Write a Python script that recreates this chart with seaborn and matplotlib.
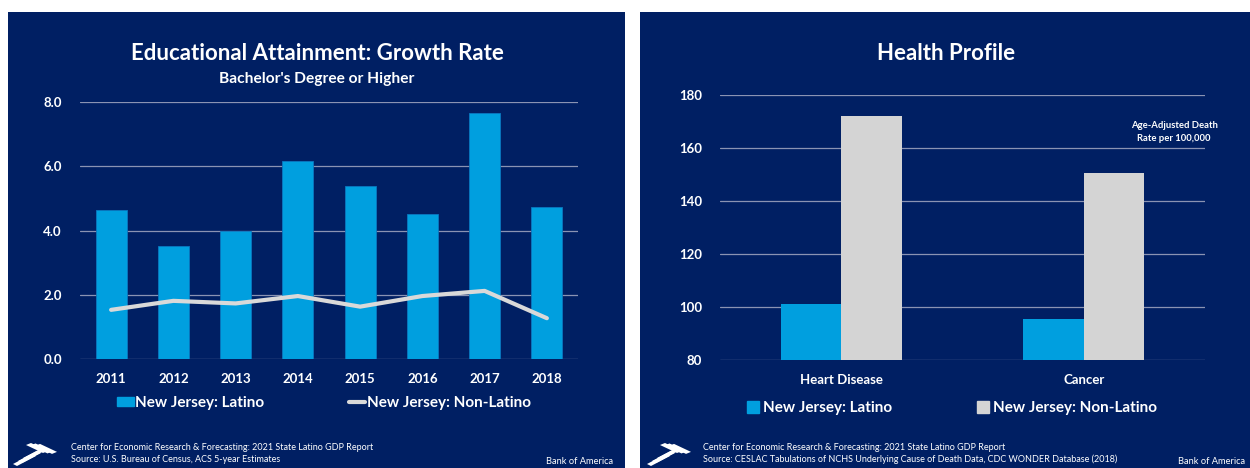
import numpy as np
import pandas as pd
import matplotlib
matplotlib.use("Agg")
import matplotlib.pyplot as plt
from matplotlib.patches import Rectangle, Polygon
from matplotlib.lines import Line2D
import seaborn as sns

# data
years = ["2011", "2012", "2013", "2014", "2015", "2016", "2017", "2018"]
latino_growth = [4.65, 3.52, 4.0, 6.16, 5.39, 4.52, 7.67, 4.74]
nonlatino_growth = [1.53, 1.81, 1.73, 1.96, 1.63, 1.96, 2.12, 1.27]

causes = ["Heart Disease", "Cancer"]
latino_death = [101.1, 95.3]
nonlatino_death = [172.2, 150.7]
groups = ["New Jersey: Latino", "New Jersey: Non-Latino"]

NAVY = "#001f63"
BLUE = "#009fdf"
GRAY = "#d4d4d4"
GRID = "#8a93b3"
FONT = "Lato"

sns.set_theme(style="dark")
plt.rcParams["font.family"] = [FONT, "DejaVu Sans"]
plt.rcParams["font.weight"] = "bold"

W, H = 1250, 468
fig = plt.figure(figsize=(W / 100, H / 100), dpi=100, facecolor="white")


def fx(px):
    return px / W


def fy(py):
    return 1 - py / H


def panel(x0, x1):
    bg = fig.add_axes([fx(x0), 0, fx(x1 - x0), fy(12)])
    bg.set_facecolor(NAVY)
    bg.set_xticks([]); bg.set_yticks([])
    for s in bg.spines.values():
        s.set_visible(False)
    return bg


def logo(x, y):
    # rough white flag stripes like the bank logo
    lax = fig.add_axes([fx(x), fy(y + 28), fx(46), 28 / H])
    lax.set_xlim(0, 46); lax.set_ylim(0, 28)
    lax.axis("off")
    # lower-left stripes, rising to the right
    for i in range(3):
        o = i * 5
        lax.add_patch(Polygon([[1 + o, 3 + o * 0.6], [5 + o, 1 + o * 0.6],
                               [24 + o, 11 + o * 0.6], [20 + o, 13 + o * 0.6]],
                              closed=True, color="white", lw=0))
    # upper-right stripes, falling to the right
    for i in range(3):
        o = i * 4.5
        lax.add_patch(Polygon([[14 + o, 22 - o * 0.1], [19 + o, 24 - o * 0.1],
                               [36 + o, 16 - o * 0.1], [31 + o, 14 - o * 0.1]],
                              closed=True, color="white", lw=0))


def style_axes(ax):
    ax.set_facecolor(NAVY)
    for s in ax.spines.values():
        s.set_visible(False)
    ax.grid(False)
    ax.yaxis.grid(True, color=GRID, lw=0.9)
    ax.set_axisbelow(True)
    ax.tick_params(colors="white", length=0, labelsize=9.5)
    ax.tick_params(axis="y", pad=13)
    ax.tick_params(axis="x", pad=10)
    ax.set_xlabel("")
    ax.set_ylabel("")


# ---- left panel
panel(8, 625)
ax1 = fig.add_axes([fx(80), fy(359), fx(498), 257 / H])
df1 = pd.DataFrame({"year": years, "latino": latino_growth, "non": nonlatino_growth})
sns.barplot(data=df1, x="year", y="latino", color=BLUE, width=0.5, saturation=1,
            edgecolor="#0a78c0", linewidth=0.6, ax=ax1)
sns.lineplot(x=np.arange(len(years)), y=df1["non"], color="#d9d9d9", lw=3, ax=ax1)
ax1.set_ylim(0, 8)
ax1.set_xlim(-0.5, len(years) - 0.5)
ax1.set_yticks([0, 2, 4, 6, 8])
ax1.set_yticklabels([f"{v:.1f}" for v in [0, 2, 4, 6, 8]])
style_axes(ax1)

fig.text(fx(317), fy(54), "Educational Attainment: Growth Rate", color="white",
         fontsize=16, ha="center", va="center")
fig.text(fx(317), fy(79), "Bachelor's Degree or Higher", color="white",
         fontsize=11.2, ha="center", va="center")

h1 = [Rectangle((0, 0), 1, 1, color=BLUE), Line2D([0], [0], color="#d9d9d9", lw=3)]
fig.legend(h1, groups, loc="center", bbox_to_anchor=(fx(324), fy(403)), ncol=2,
           frameon=False, labelcolor="white", prop={"weight": "bold", "size": 11},
           handlelength=1.1, handleheight=0.6, handletextpad=0.1, columnspacing=5.5)

logo(12, 439)
fig.text(fx(71), fy(448), "Center for Economic Research & Forecasting: 2021 State Latino GDP Report",
         color="white", fontsize=6.5, fontweight="normal", va="center")
fig.text(fx(71), fy(459), "Source: U.S. Bureau of Census, ACS 5-year Estimates",
         color="white", fontsize=6.5, fontweight="normal", va="center")
fig.text(fx(613), fy(461), "Bank of America", color="white", fontsize=6.7,
         fontweight="normal", ha="right", va="center")

# ---- right panel
panel(640, 1250)
ax2 = fig.add_axes([fx(720), fy(360), fx(485), 265 / H])
df2 = pd.DataFrame({"cause": causes * 2,
                    "rate": latino_death + nonlatino_death,
                    "group": [groups[0]] * 2 + [groups[1]] * 2})
sns.barplot(data=df2, x="cause", y="rate", hue="group", palette=[BLUE, GRAY],
            width=0.5, saturation=1, linewidth=0, ax=ax2, legend=False)
ax2.set_ylim(80, 180)
ax2.set_xlim(-0.5, len(causes) - 0.5)
ax2.set_yticks(range(80, 181, 20))
style_axes(ax2)

fig.text(fx(946), fy(54), "Health Profile", color="white",
         fontsize=16, ha="center", va="center")
fig.text(fx(1174), fy(132), "Age-Adjusted Death\nRate per 100,000", color="white",
         fontsize=6.8, ha="center", va="center", linespacing=1.5)

h2 = [Line2D([0], [0], marker="s", ls="", color=BLUE, markersize=8),
      Line2D([0], [0], marker="s", ls="", color=GRAY, markersize=8)]
fig.legend(h2, groups, loc="center", bbox_to_anchor=(fx(952), fy(408)), ncol=2,
           frameon=False, labelcolor="white", prop={"weight": "bold", "size": 11},
           handlelength=0.8, handletextpad=0.3, columnspacing=5.5)

logo(646, 439)
fig.text(fx(703), fy(448), "Center for Economic Research & Forecasting: 2021 State Latino GDP Report",
         color="white", fontsize=6.5, fontweight="normal", va="center")
fig.text(fx(703), fy(459), "Source: CESLAC Tabulations of NCHS Underlying Cause of Death Data, CDC WONDER Database (2018)",
         color="white", fontsize=6.5, fontweight="normal", va="center")
fig.text(fx(1245), fy(461), "Bank of America", color="white", fontsize=6.7,
         fontweight="normal", ha="right", va="center")

fig.savefig("out.png", dpi=100, facecolor="white")
